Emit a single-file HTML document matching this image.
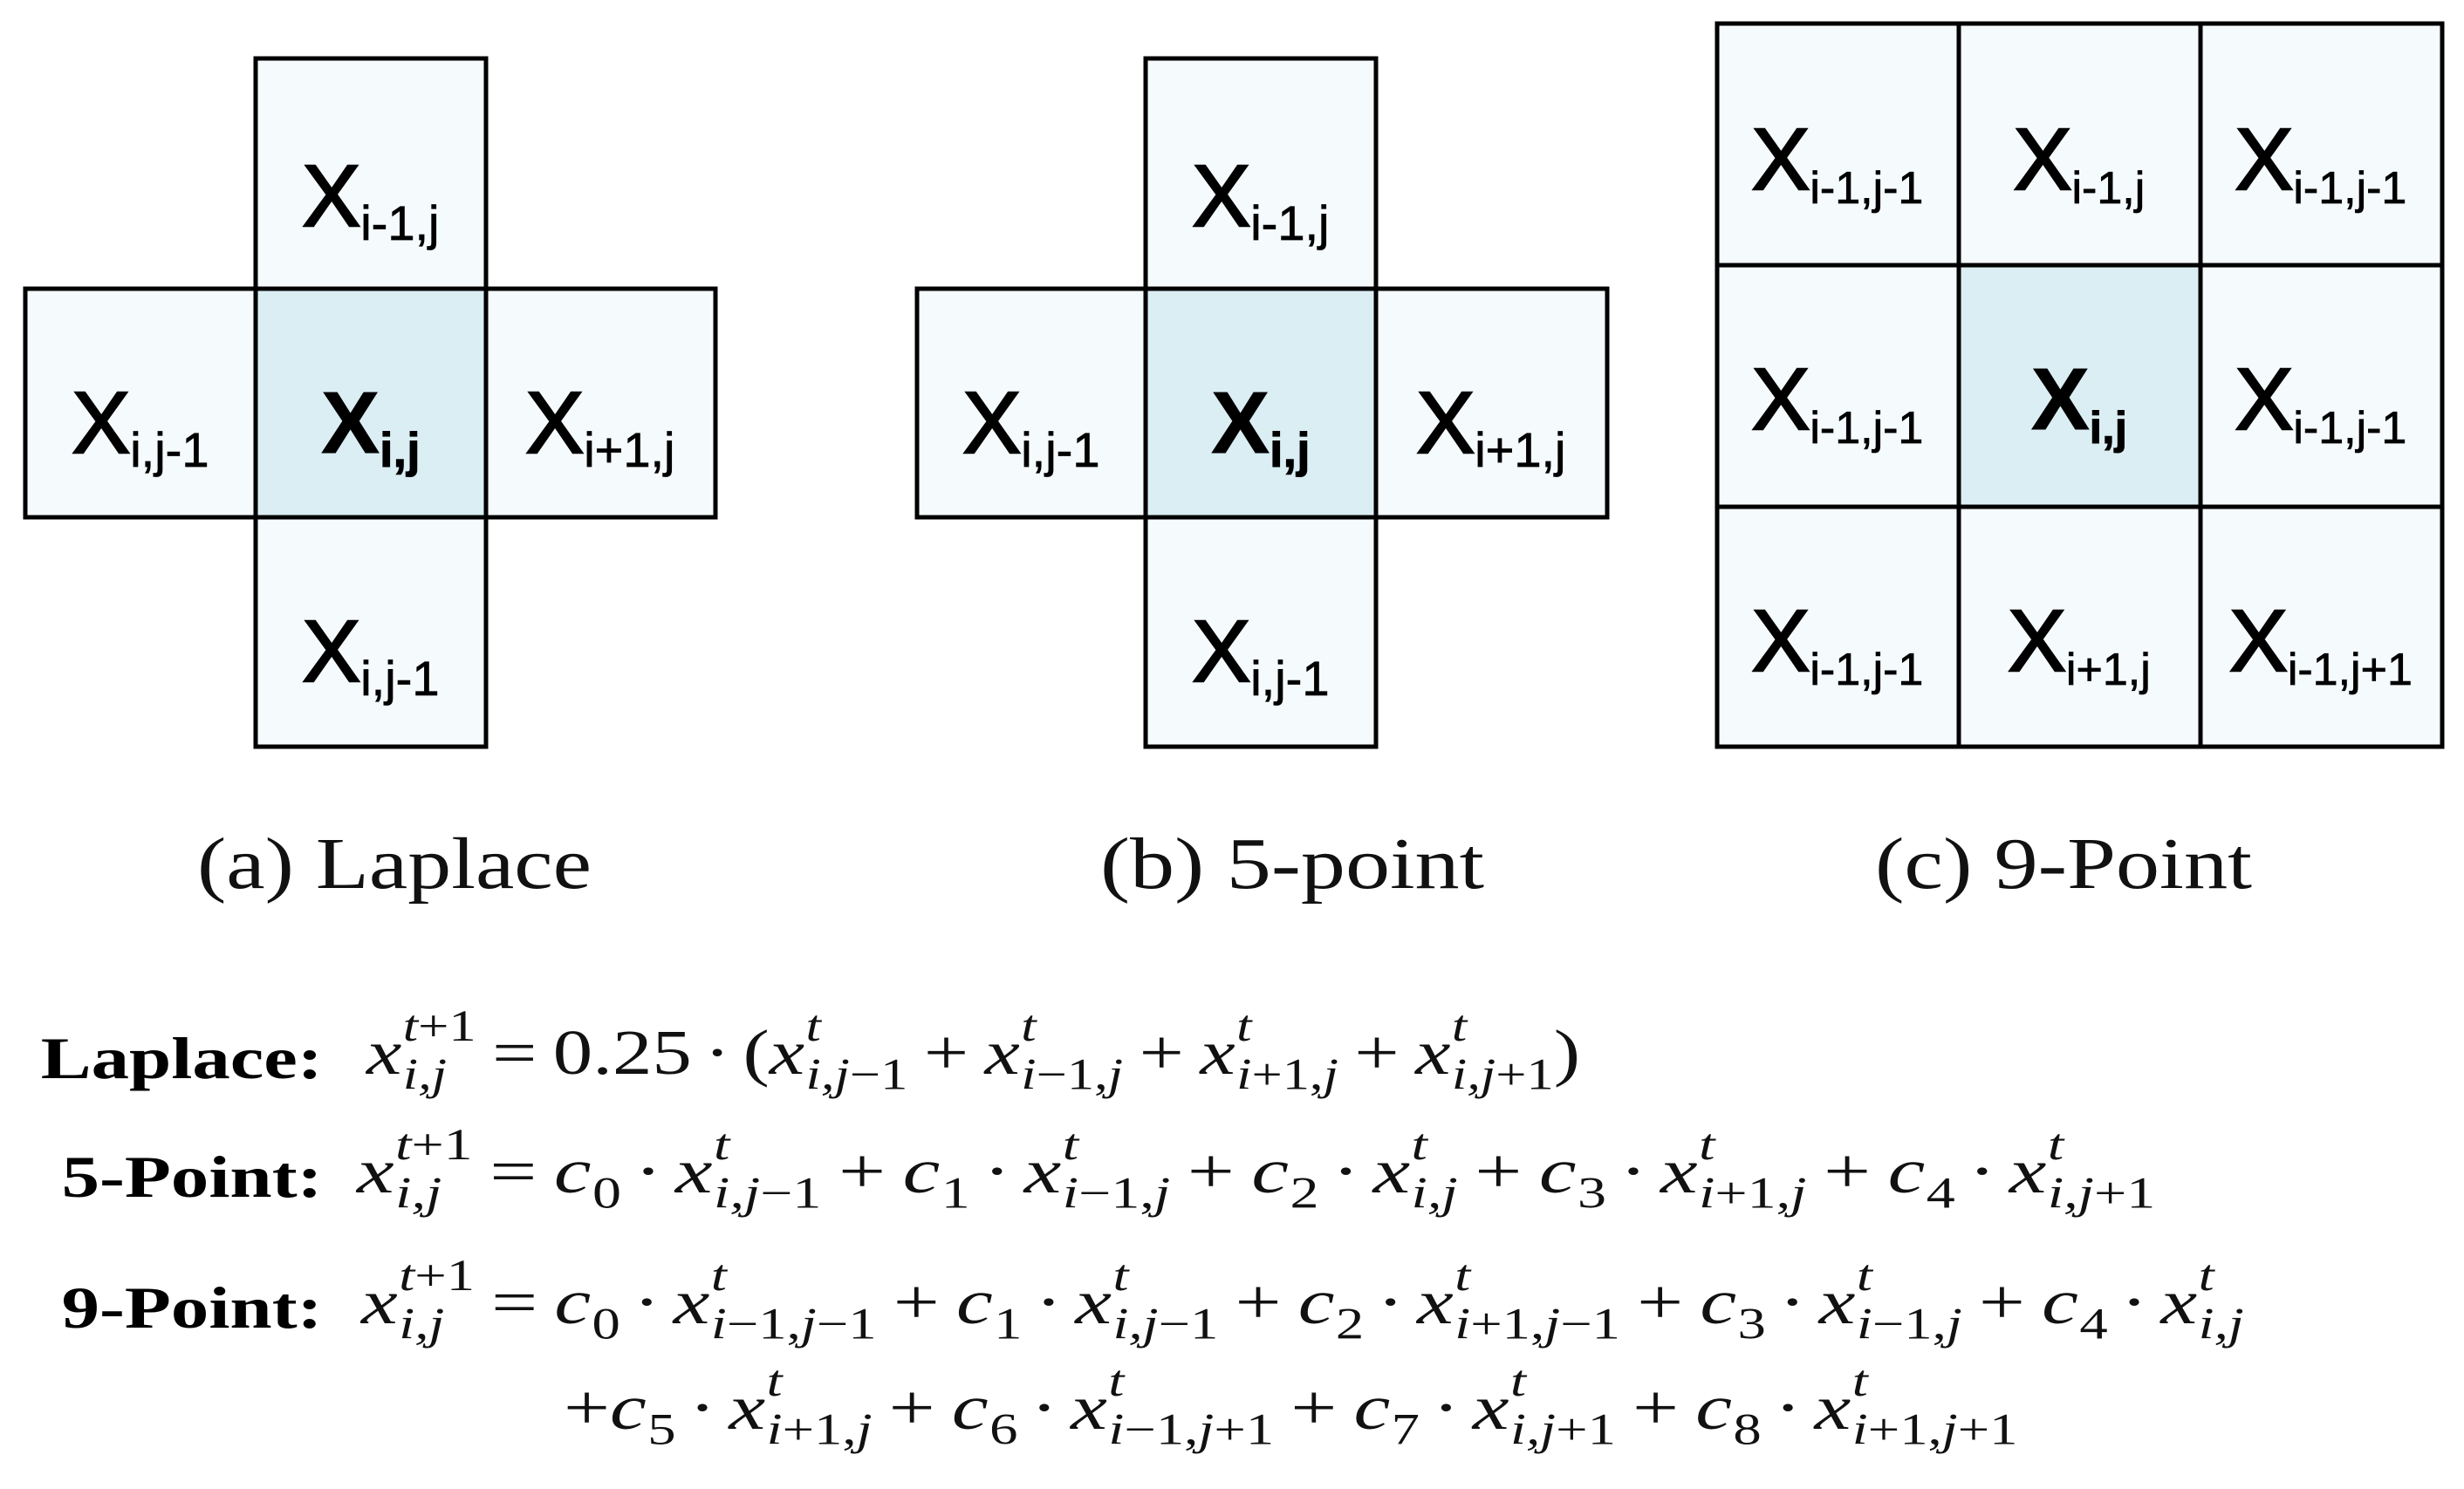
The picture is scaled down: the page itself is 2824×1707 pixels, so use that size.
<!DOCTYPE html>
<html><head><meta charset="utf-8"><style>
html,body{margin:0;padding:0;background:#fff}
body{width:2824px;height:1707px;position:relative;overflow:hidden}
svg{position:absolute;left:0;top:0}
.eq{position:absolute;white-space:nowrap;font-family:"Liberation Serif",serif;font-size:64px;line-height:160px;color:#111;transform-origin:0 100px}
.lab{position:absolute;white-space:nowrap;font-family:"Liberation Serif",serif;font-weight:bold;font-size:62px;line-height:160px;right:2454px;color:#000;transform-origin:100% 100px;transform:scale(1.4,1.1)}
.x{font-style:italic}
.st{display:inline-block;font-size:44px;line-height:48px;position:relative;top:15px;vertical-align:baseline;margin-left:1px}
.st span{display:block}
.st i{font-style:italic}
.op{margin:0 13px}
.d{margin:0 10px}
</style></head><body>
<svg width="2824" height="1707" xmlns="http://www.w3.org/2000/svg">
<g stroke="#000" stroke-width="5" fill="#f5fafc">
<rect x="293" y="67" width="264" height="264"/>
<rect x="29" y="331" width="264" height="262"/>
<rect x="293" y="331" width="264" height="262" fill="#daeef3"/>
<rect x="557" y="331" width="263" height="262"/>
<rect x="293" y="593" width="264" height="263"/>
<rect x="1313" y="67" width="264" height="264"/>
<rect x="1051" y="331" width="262" height="262"/>
<rect x="1313" y="331" width="264" height="262" fill="#daeef3"/>
<rect x="1577" y="331" width="265" height="262"/>
<rect x="1313" y="593" width="264" height="263"/>
<rect x="1968" y="27" width="277" height="277"/>
<rect x="2245" y="27" width="277" height="277"/>
<rect x="2522" y="27" width="277" height="277"/>
<rect x="1968" y="304" width="277" height="277"/>
<rect x="2245" y="304" width="277" height="277" fill="#daeef3"/>
<rect x="2522" y="304" width="277" height="277"/>
<rect x="1968" y="581" width="277" height="275"/>
<rect x="2245" y="581" width="277" height="275"/>
<rect x="2522" y="581" width="277" height="275"/>
</g>
<g font-family="'Liberation Sans',sans-serif" font-size="100" text-anchor="middle" fill="#000" stroke="#000" stroke-width="2.5">
<text x="425" y="259">X<tspan font-size="56" dy="16" stroke-width="0.8">i-1,j</tspan></text>
<text x="161" y="519">X<tspan font-size="56" dy="16" stroke-width="0.8">i,j-1</tspan></text>
<text x="425" y="519" font-weight="bold" stroke-width="1">X<tspan font-size="56" dy="16">i,j</tspan></text>
<text x="688" y="519">X<tspan font-size="56" dy="16" stroke-width="0.8">i+1,j</tspan></text>
<text x="425" y="781">X<tspan font-size="56" dy="16" stroke-width="0.8">i,j-1</tspan></text>

<text x="1445" y="259">X<tspan font-size="56" dy="16" stroke-width="0.8">i-1,j</tspan></text>
<text x="1182" y="519">X<tspan font-size="56" dy="16" stroke-width="0.8">i,j-1</tspan></text>
<text x="1445" y="519" font-weight="bold" stroke-width="1">X<tspan font-size="56" dy="16">i,j</tspan></text>
<text x="1709" y="519">X<tspan font-size="56" dy="16" stroke-width="0.8">i+1,j</tspan></text>
<text x="1445" y="781">X<tspan font-size="56" dy="16" stroke-width="0.8">i,j-1</tspan></text>

<text x="2106" y="217">X<tspan font-size="52" dy="16" stroke-width="0.8">i-1,j-1</tspan></text>
<text x="2383" y="217">X<tspan font-size="52" dy="16" stroke-width="0.8">i-1,j</tspan></text>
<text x="2660" y="217">X<tspan font-size="52" dy="16" stroke-width="0.8">i-1,j-1</tspan></text>
<text x="2106" y="492">X<tspan font-size="52" dy="16" stroke-width="0.8">i-1,j-1</tspan></text>
<text x="2383" y="492" font-weight="bold" stroke-width="1">X<tspan font-size="52" dy="16">i,j</tspan></text>
<text x="2660" y="492">X<tspan font-size="52" dy="16" stroke-width="0.8">i-1,j-1</tspan></text>
<text x="2106" y="769">X<tspan font-size="52" dy="16" stroke-width="0.8">i-1,j-1</tspan></text>
<text x="2383" y="769">X<tspan font-size="52" dy="16" stroke-width="0.8">i+1,j</tspan></text>
<text x="2660" y="769">X<tspan font-size="52" dy="16" stroke-width="0.8">i-1,j+1</tspan></text>
</g>
<g font-family="'Liberation Serif',serif" font-size="84" fill="#111">
<text x="226" y="1018" textLength="452" lengthAdjust="spacingAndGlyphs">(a) Laplace</text>
<text x="1261" y="1018" textLength="440" lengthAdjust="spacingAndGlyphs">(b) 5-point</text>
<text x="2149" y="1018" textLength="432" lengthAdjust="spacingAndGlyphs">(c) 9-Point</text>
</g>
</svg>

<div class="lab" style="top:1136px">Laplace:</div>
<div class="lab" style="top:1272px">5-Point:</div>
<div class="lab" style="top:1422px">9-Point:</div>

<div class="eq" style="left:420px;top:1130px;transform:scale(1.42,1.15)"><span class="x">x</span><span class="st"><span><i>t</i>+1</span><span><i>i,j</i></span></span><span class="op">=</span>0.25<span class="d">·</span>(<span class="x">x</span><span class="st"><span><i>t</i></span><span><i>i,j</i>−1</span></span><span class="op">+</span><span class="x">x</span><span class="st"><span><i>t</i></span><span><i>i</i>−1,<i>j</i></span></span><span class="op">+</span><span class="x">x</span><span class="st"><span><i>t</i></span><span><i>i</i>+1,<i>j</i></span></span><span class="op">+</span><span class="x">x</span><span class="st"><span><i>t</i></span><span><i>i,j</i>+1</span></span>)</div>

<div class="eq" style="left:409px;top:1266px;transform:scale(1.5,1.15)"><span class="x">x</span><span class="st"><span><i>t</i>+1</span><span><i>i,j</i></span></span><span class="op">=</span><span class="x">c</span><span class="st"><span>&nbsp;</span><span>0</span></span><span class="d">·</span><span class="x">x</span><span class="st"><span><i>t</i></span><span><i>i,j</i>−1</span></span><span class="op">+</span><span class="x">c</span><span class="st"><span>&nbsp;</span><span>1</span></span><span class="d">·</span><span class="x">x</span><span class="st"><span><i>t</i></span><span><i>i</i>−1,<i>j</i></span></span><span class="op">+</span><span class="x">c</span><span class="st"><span>&nbsp;</span><span>2</span></span><span class="d">·</span><span class="x">x</span><span class="st"><span><i>t</i></span><span><i>i,j</i></span></span><span class="op">+</span><span class="x">c</span><span class="st"><span>&nbsp;</span><span>3</span></span><span class="d">·</span><span class="x">x</span><span class="st"><span><i>t</i></span><span><i>i</i>+1,<i>j</i></span></span><span class="op">+</span><span class="x">c</span><span class="st"><span>&nbsp;</span><span>4</span></span><span class="d">·</span><span class="x">x</span><span class="st"><span><i>t</i></span><span><i>i,j</i>+1</span></span></div>

<div class="eq" style="left:414px;top:1416px;transform:scale(1.47,1.15)"><span class="x">x</span><span class="st"><span><i>t</i>+1</span><span><i>i,j</i></span></span><span class="op">=</span><span class="x">c</span><span class="st"><span>&nbsp;</span><span>0</span></span><span class="d">·</span><span class="x">x</span><span class="st"><span><i>t</i></span><span><i>i</i>−1,<i>j</i>−1</span></span><span class="op">+</span><span class="x">c</span><span class="st"><span>&nbsp;</span><span>1</span></span><span class="d">·</span><span class="x">x</span><span class="st"><span><i>t</i></span><span><i>i,j</i>−1</span></span><span class="op">+</span><span class="x">c</span><span class="st"><span>&nbsp;</span><span>2</span></span><span class="d">·</span><span class="x">x</span><span class="st"><span><i>t</i></span><span><i>i</i>+1,<i>j</i>−1</span></span><span class="op">+</span><span class="x">c</span><span class="st"><span>&nbsp;</span><span>3</span></span><span class="d">·</span><span class="x">x</span><span class="st"><span><i>t</i></span><span><i>i</i>−1,<i>j</i></span></span><span class="op">+</span><span class="x">c</span><span class="st"><span>&nbsp;</span><span>4</span></span><span class="d">·</span><span class="x">x</span><span class="st"><span><i>t</i></span><span><i>i,j</i></span></span></div>

<div class="eq" style="left:646px;top:1537px;transform:scale(1.47,1.15)">+<span class="x">c</span><span class="st"><span>&nbsp;</span><span>5</span></span><span class="d">·</span><span class="x">x</span><span class="st"><span><i>t</i></span><span><i>i</i>+1,<i>j</i></span></span><span class="op">+</span><span class="x">c</span><span class="st"><span>&nbsp;</span><span>6</span></span><span class="d">·</span><span class="x">x</span><span class="st"><span><i>t</i></span><span><i>i</i>−1,<i>j</i>+1</span></span><span class="op">+</span><span class="x">c</span><span class="st"><span>&nbsp;</span><span>7</span></span><span class="d">·</span><span class="x">x</span><span class="st"><span><i>t</i></span><span><i>i,j</i>+1</span></span><span class="op">+</span><span class="x">c</span><span class="st"><span>&nbsp;</span><span>8</span></span><span class="d">·</span><span class="x">x</span><span class="st"><span><i>t</i></span><span><i>i</i>+1,<i>j</i>+1</span></span></div>
</body></html>
